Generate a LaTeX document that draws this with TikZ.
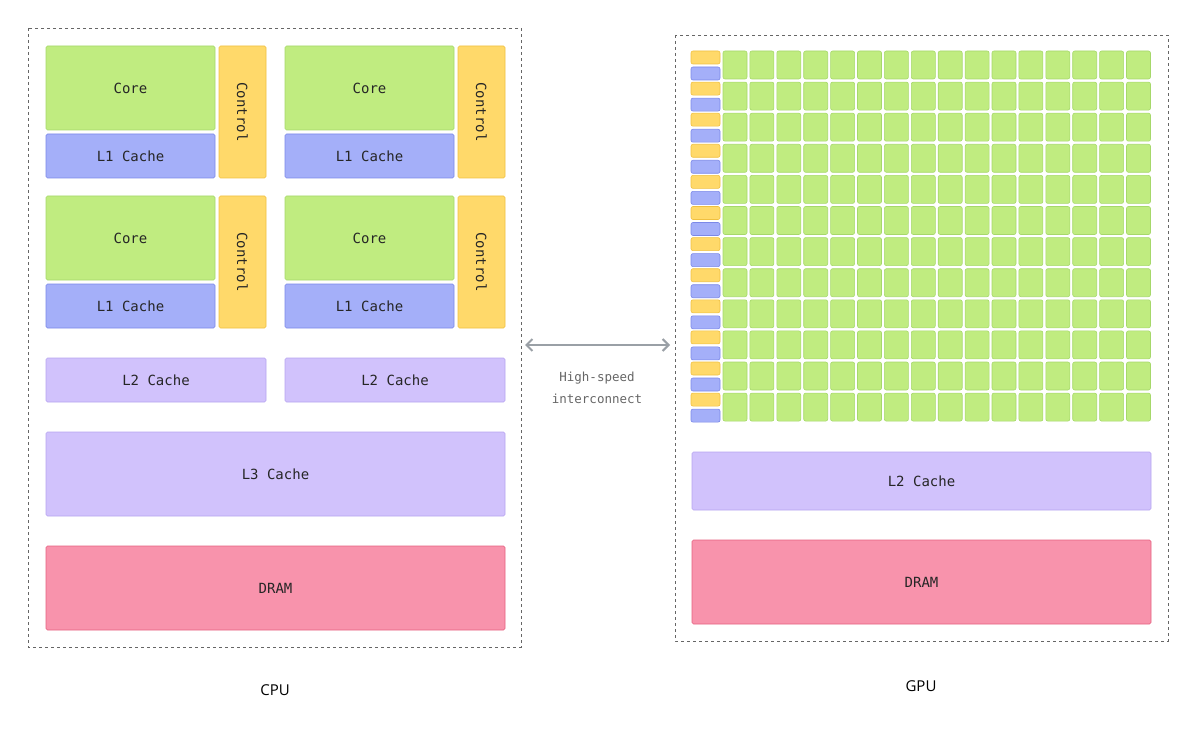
\documentclass[tikz,border=0pt]{standalone}
\usepackage{fontspec}
\setmonofont{DejaVu Sans Mono}
\setsansfont{Open Sans}
\usetikzlibrary{arrows.meta}
\definecolor{coregreen}{HTML}{C0EC80}
\definecolor{coreedge}{HTML}{A6D86A}
\definecolor{lblue}{HTML}{A4AFF9}
\definecolor{lblueedge}{HTML}{7B88E8}
\definecolor{ctrlyel}{HTML}{FFD96A}
\definecolor{ctrledge}{HTML}{F0C040}
\definecolor{cachepur}{HTML}{D1C2FC}
\definecolor{cacheedge}{HTML}{B7A4F0}
\definecolor{drampink}{HTML}{F893AC}
\definecolor{dramedge}{HTML}{E5607F}
\definecolor{linkgray}{HTML}{9AA0A6}
\tikzset{
  blk/.style={rounded corners=1.5pt, line width=.6pt, font=\ttfamily\fontsize{14}{16}\selectfont, text=black!85},
  corebox/.style={blk, fill=coregreen, draw=coreedge},
  lonebox/.style={blk, fill=lblue, draw=lblueedge},
  ctrlbox/.style={blk, fill=ctrlyel, draw=ctrledge},
  cachebox/.style={blk, fill=cachepur, draw=cacheedge},
  drambox/.style={blk, fill=drampink, draw=dramedge},
  chip/.style={draw=black!60, dashed, line width=.6pt},
  chiplabel/.style={font=\sffamily\fontsize{15}{18}\selectfont}
}
\begin{document}
\begin{tikzpicture}[x=1pt,y=-1pt]
\useasboundingbox (0,0) rectangle (1200,733);

% CPU
\draw[chip] (28,28) rectangle (521,647);
\foreach \cx/\cy [count=\i] in {0/0, 239/0, 0/150, 239/150} {
  \draw[corebox] (46+\cx,46+\cy) rectangle node (core\i) {Core} (215+\cx,130+\cy);
  \draw[lonebox] (46+\cx,134+\cy) rectangle node (lone\i) {L1 Cache} (215+\cx,178+\cy);
  \draw[ctrlbox] (219+\cx,46+\cy) rectangle node[rotate=-90] (ctrl\i) {Control} (266+\cx,178+\cy);
}
\draw[cachebox] (46,358) rectangle node (ltwoa) {L2 Cache} (266,402);
\draw[cachebox] (285,358) rectangle node (ltwob) {L2 Cache} (505,402);
\draw[cachebox] (46,432) rectangle node (lthree) {L3 Cache} (505,516);
\draw[drambox] (46,546) rectangle node (cdram) {DRAM} (505,630);
\node[chiplabel] (cpu) at (275,690) {CPU};

% GPU
\draw[chip] (675,35) rectangle (1168,641);
\foreach \r in {0,...,11} {
  \draw[ctrlbox, rounded corners=2pt] (691,51+31.1*\r) rectangle (720,64+31.1*\r);
  \draw[lonebox, rounded corners=2pt] (691,67+31.1*\r) rectangle (720,80+31.1*\r);
  \foreach \c in {0,...,15}
    \draw[corebox, rounded corners=2pt] (723+26.9*\c,51+31.1*\r) rectangle (747+26.9*\c,79+31.1*\r);
}
\draw[cachebox] (692,452) rectangle node (gltwo) {L2 Cache} (1151,510);
\draw[drambox] (692,540) rectangle node (gdram) {DRAM} (1151,624);
\node[chiplabel] (gpu) at (921,686) {GPU};

% link
\coordinate (cpuside) at (525,345);
\coordinate (gpuside) at (670,345);
\draw[linkgray, line width=2pt, {Straight Barb[length=6pt,width=12pt]}-{Straight Barb[length=6pt,width=12pt]}] (cpuside) -- (gpuside);
\node[font=\ttfamily\fontsize{12.5}{22}\selectfont, text=black!60, align=center] (link) at (597,388) {High-speed\\interconnect};
\end{tikzpicture}
\end{document}
